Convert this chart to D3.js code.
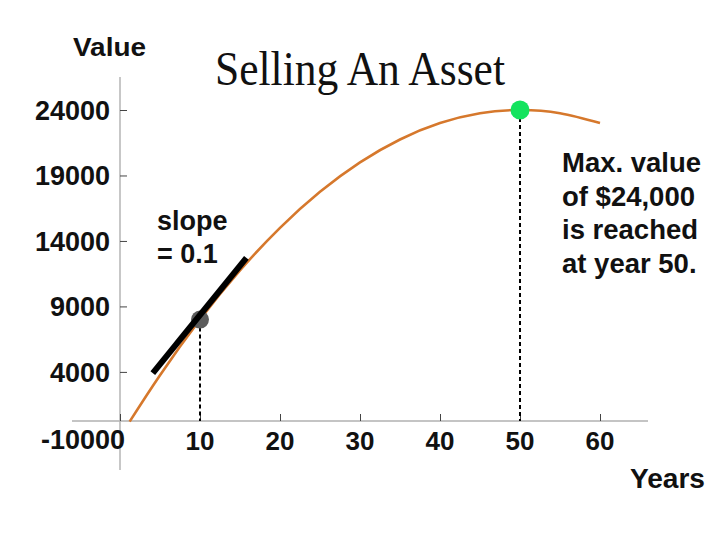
<!DOCTYPE html>
<html>
<head>
<meta charset="utf-8">
<script src="https://cdn.jsdelivr.net/npm/d3@7"></script>
<style>
  html, body { margin: 0; padding: 0; background: #fff; }
  svg { display: block; }
</style>
</head>
<body>
<svg id="chart" width="720" height="540"></svg>
<script>
// ---- data ----
const years  = [1.2, 5, 10, 15, 20, 25, 30, 35, 40, 45, 50, 55, 60];
const values = [200, 3750, 8000, 11750, 15000, 17750, 20000, 21750, 23000, 23750, 24000, 23750, 23000];
const xTicks = [10, 20, 30, 40, 50, 60];
const yTicks = [24000, 19000, 14000, 9000, 4000];
const yOriginLabel = "-10000";
const tangentYears  = [4.1, 15.8];
const tangentValues = [3900, 12700];
const markedYear = 10, markedValue = 8000;
const maxYear = 50, maxValue = 24000;
const axisBaseValue = 250;
const title = "Selling An Asset";
const slopeText = ["slope", "= 0.1"];
const noteText = ["Max. value", "of $24,000", "is reached", "at year 50."];

// ---- scales ----
const x = d3.scaleLinear().domain([0, 60]).range([120, 600]);
const y = d3.scaleLinear().domain([axisBaseValue, 24000]).range([421, 110]);

const svg = d3.select("#chart");
const sans = "Arial, 'Liberation Sans', sans-serif";
const axisY = y(axisBaseValue);

// axes lines
svg.append("line").attr("x1", x(-6)).attr("x2", x(66)).attr("y1", axisY).attr("y2", axisY)
  .attr("stroke", "#c4c4c4").attr("stroke-width", 2);
svg.append("line").attr("x1", x(0)).attr("x2", x(0)).attr("y1", 77).attr("y2", 470)
  .attr("stroke", "#b4b4b4").attr("stroke-width", 1.5);

// y axis ticks & labels
const yAxis = d3.axisRight(y).tickValues(yTicks).tickSize(7).tickFormat("");
const gy = svg.append("g").attr("transform", `translate(${x(0)},0)`).call(yAxis);
gy.select(".domain").remove();
gy.selectAll(".tick line").attr("stroke", "#444").attr("stroke-width", 1);
svg.append("g").selectAll("text").data(yTicks).join("text")
  .attr("x", 110).attr("y", d => y(d)).attr("dy", "0.36em")
  .attr("text-anchor", "end").attr("font-family", sans).attr("font-weight", "bold")
  .attr("font-size", 27).attr("fill", "#111").text(d => d);
svg.append("text").attr("x", x(0) + 5).attr("y", axisY + 28)
  .attr("text-anchor", "end").attr("font-family", sans).attr("font-weight", "bold")
  .attr("font-size", 27).attr("fill", "#111").text(yOriginLabel);

// x axis ticks & labels
const xAxis = d3.axisTop(x).tickValues([0].concat(xTicks)).tickSize(7).tickFormat("");
const gx = svg.append("g").attr("transform", `translate(0,${axisY})`).call(xAxis);
gx.select(".domain").remove();
gx.selectAll(".tick line").attr("stroke", "#444").attr("stroke-width", 1);
svg.append("g").selectAll("text").data(xTicks).join("text")
  .attr("x", d => x(d)).attr("y", 450)
  .attr("text-anchor", "middle").attr("font-family", sans).attr("font-weight", "bold")
  .attr("font-size", 26).attr("fill", "#111").text(d => d);

// axis titles
svg.append("text").attr("x", 73).attr("y", 56)
  .attr("font-family", sans).attr("font-weight", "bold").attr("font-size", 26)
  .attr("textLength", 73).attr("lengthAdjust", "spacingAndGlyphs")
  .attr("fill", "#111").text("Value");
svg.append("text").attr("x", 630).attr("y", 488)
  .attr("font-family", sans).attr("font-weight", "bold").attr("font-size", 27)
  .attr("textLength", 75).attr("lengthAdjust", "spacingAndGlyphs")
  .attr("fill", "#111").text("Years");

// title
svg.append("text").attr("x", 215).attr("y", 85)
  .attr("font-family", "'Times New Roman', 'Liberation Serif', serif").attr("font-size", 48)
  .attr("textLength", 290).attr("lengthAdjust", "spacingAndGlyphs")
  .attr("fill", "#111").text(title);

// dashed drop lines
svg.append("line").attr("x1", x(markedYear)).attr("x2", x(markedYear))
  .attr("y1", y(markedValue) + 8).attr("y2", axisY)
  .attr("stroke", "#000").attr("stroke-width", 2).attr("stroke-dasharray", "4,3");
svg.append("line").attr("x1", x(maxYear)).attr("x2", x(maxYear))
  .attr("y1", y(maxValue) + 8).attr("y2", axisY)
  .attr("stroke", "#000").attr("stroke-width", 2).attr("stroke-dasharray", "4,3");

// curve
const pts = years.map((t, i) => [t, values[i]]);
const line = d3.line().x(d => x(d[0])).y(d => y(d[1])).curve(d3.curveNatural);
svg.append("path").datum(pts).attr("d", line)
  .attr("fill", "none").attr("stroke", "#d6782c").attr("stroke-width", 2.6);

// marked point at year 10
svg.append("circle").attr("cx", x(markedYear)).attr("cy", y(markedValue)).attr("r", 9)
  .attr("fill", "#5c5c5c");

// tangent line
const tangentPts = tangentYears.map((t, i) => [t, tangentValues[i]]);
svg.append("path").datum(tangentPts)
  .attr("d", d3.line().x(d => x(d[0])).y(d => y(d[1])))
  .attr("stroke", "#000").attr("stroke-width", 6).attr("fill", "none");

// max point
svg.append("circle").attr("cx", x(maxYear)).attr("cy", y(maxValue)).attr("r", 9.5)
  .attr("fill", "#14e35e");

// annotations
svg.append("g").selectAll("text").data(slopeText).join("text")
  .attr("x", 157).attr("y", (d, i) => 230 + i * 33)
  .attr("font-family", sans).attr("font-weight", "bold").attr("font-size", 27)
  .attr("fill", "#111").text(d => d);
svg.append("g").selectAll("text").data(noteText).join("text")
  .attr("x", 562).attr("y", (d, i) => 172 + i * 33.7)
  .attr("font-family", sans).attr("font-weight", "bold").attr("font-size", 27.5)
  .attr("fill", "#111").text(d => d);
</script>
</body>
</html>
